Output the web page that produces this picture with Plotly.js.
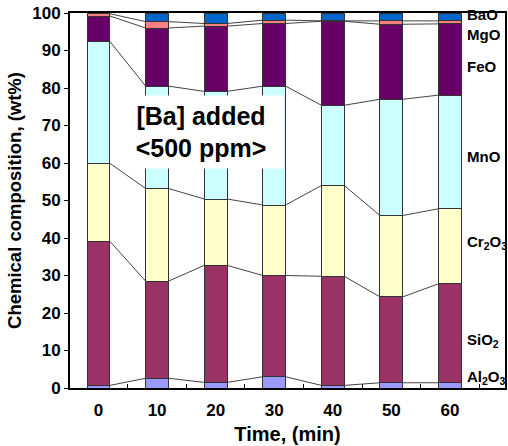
<!DOCTYPE html>
<html><head><meta charset="utf-8">
<script src="https://cdn.plot.ly/plotly-3.0.1.min.js"></script>
<style>body{margin:0;background:#fff}#c{width:508px;height:446px}</style>
</head><body><div id="c"></div>
<script>
const times = [0, 10, 20, 30, 40, 50, 60];
const Al2O3 = [0.7, 2.6, 1.5, 3.0, 0.7, 1.4, 1.4];
const SiO2  = [38.4, 25.9, 31.2, 27.0, 29.1, 22.9, 26.4];
const Cr2O3 = [20.8, 24.7, 17.7, 18.8, 24.2, 21.7, 20.0];
const MnO   = [32.5, 27.3, 28.7, 31.7, 21.4, 31.0, 30.3];
const FeO   = [6.8, 15.5, 17.4, 16.7, 22.4, 20.0, 19.0];
const MgO   = [0.6, 1.7, 0.7, 0.9, 0.1, 0.9, 0.8];
const BaO   = [0.2, 2.3, 2.8, 1.9, 2.1, 2.1, 2.1];
const names = ['Al<sub>2</sub>O<sub>3</sub>','SiO<sub>2</sub>','Cr<sub>2</sub>O<sub>3</sub>','MnO','FeO','MgO','BaO'];
const colors = ['#9999ff','#993366','#ffffcc','#ccffff','#660066','#ff8080','#0066cc'];
const series = [Al2O3, SiO2, Cr2O3, MnO, FeO, MgO, BaO];
const labelY = [2.7, 12.8, 38.8, 61.8, 85.8, 94.4, 99.6];

const barW = 3.9;
const traces = [];
series.forEach((s, k) => {
  traces.push({type:'bar', x: times, y: s, width: barW, name: names[k],
    marker:{color: colors[k], line:{color:'#333', width:1}}, hoverinfo:'y'});
});
// series lines connecting cumulative tops between adjacent bars
let cum = times.map(() => 0);
for (let k = 0; k < series.length - 1; k++) {
  cum = cum.map((c, i) => c + series[k][i]);
  const xs = [], ys = [];
  for (let i = 0; i < times.length - 1; i++) {
    xs.push(times[i] + barW/2, times[i+1] - barW/2, null);
    ys.push(cum[i], cum[i+1], null);
  }
  traces.push({type:'scatter', mode:'lines', x: xs, y: ys, line:{color:'#444', width:1},
    hoverinfo:'skip', showlegend:false});
}

const annotations = names.map((n, k) => ({
  xref:'x', yref:'y', x: 62.6, y: labelY[k], xanchor:'left', yanchor:'middle',
  text: '<b>' + n + '</b>', showarrow:false,
  font:{family:'Liberation Sans, Arial, sans-serif', size:15, color:'#000'}
}));
annotations.push({
  xref:'x', yref:'y', x: 17.5, y: 68.2, xanchor:'center', yanchor:'middle',
  text:'<b>[Ba] added<br>&lt;500 ppm&gt;</b>', showarrow:false,
  width:162, height:70, bgcolor:'#ffffff', align:'center',
  font:{family:'Liberation Sans, Arial, sans-serif', size:25, color:'#000'}
});

const layout = {
  width:508, height:446, margin:{l:70, r:3, t:13, b:58},
  barmode:'stack', showlegend:false, bargap:0,
  paper_bgcolor:'#fff', plot_bgcolor:'#fff',
  font:{family:'Liberation Sans, Arial, sans-serif', color:'#000'},
  xaxis:{range:[-4.87, 69.4], tickvals: times, ticktext: times.map(String),
    ticks:'', showline:true, linecolor:'#000', linewidth:2, mirror:true,
    showgrid:false, zeroline:false, ticklabelstandoff:6,
    tickfont:{size:17, weight:'bold'},
    minor:{tick0:5, dtick:10, ticks:'inside', ticklen:4, tickcolor:'#000', showgrid:false},
    title:{text:'<b>Time, (min)</b>', font:{size:20}, standoff:8}},
  yaxis:{range:[0, 100], dtick:10, ticks:'outside', ticklen:4, tickcolor:'#000',
    showline:true, linecolor:'#000', linewidth:2, mirror:true,
    showgrid:false, zeroline:false,
    tickfont:{size:17, weight:'bold'},
    title:{text:'<b>Chemical composition, (wt%)</b>', font:{size:18.5}, standoff:6}},
  annotations: annotations
};
Plotly.newPlot('c', traces, layout, {displayModeBar:false, staticPlot:true});
</script></body></html>
